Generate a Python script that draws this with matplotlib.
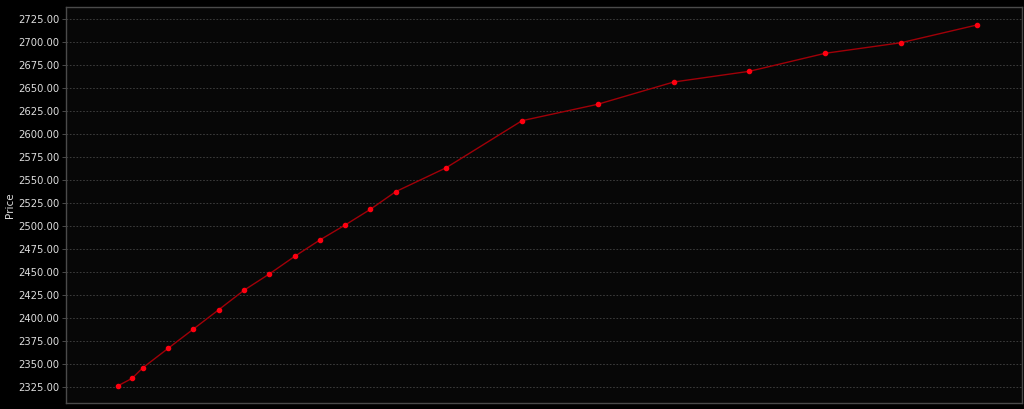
import matplotlib
matplotlib.use("Agg")
import matplotlib.pyplot as plt
import numpy as np

# days from first point, and price
days = [0, 4, 7, 14, 21, 28, 35, 42, 49, 56, 63, 70, 77, 91, 112, 133, 154, 175, 196, 217, 238]
price = [2325.8, 2334.1, 2345.7, 2366.8, 2387.8, 2408.8, 2430.0, 2447.7, 2466.8, 2484.7,
         2501.0, 2518.1, 2537.3, 2563.4, 2614.6, 2632.5, 2656.7, 2668.4, 2688.0, 2699.5, 2718.8]
yticks = np.arange(2325, 2726, 25)

fig = plt.figure(figsize=(10.24, 4.09), dpi=100, facecolor="black")
ax = fig.add_axes([0.0645, 0.0139, 0.9335, 0.9690])
ax.set_facecolor("#070707")

ax.plot(days, price, color="#a00008", lw=1.0, marker="o", ms=3.0,
        mfc="#ff0010", mec="#ff0010", zorder=3)

ax.set_xlim(-14.3, 250.5)
ax.set_ylim(2306.9, 2738.4)
ax.set_yticks(yticks)
ax.set_yticklabels([f"{v:.2f}" for v in yticks])
ax.set_xticks([])
ax.tick_params(axis="y", colors="#dddddd", labelsize=7.2, length=3, width=0.6, pad=2)
ax.tick_params(axis="y", color="#555555")
ax.grid(axis="y", color="#444444", ls=(0, (2, 2)), lw=0.6)
ax.set_ylabel("Price", color="#dddddd", fontsize=7.5, labelpad=2)

for s in ax.spines.values():
    s.set_color("#4a4a4a")
    s.set_linewidth(1.0)

fig.savefig("out.png", dpi=100, facecolor="black")
